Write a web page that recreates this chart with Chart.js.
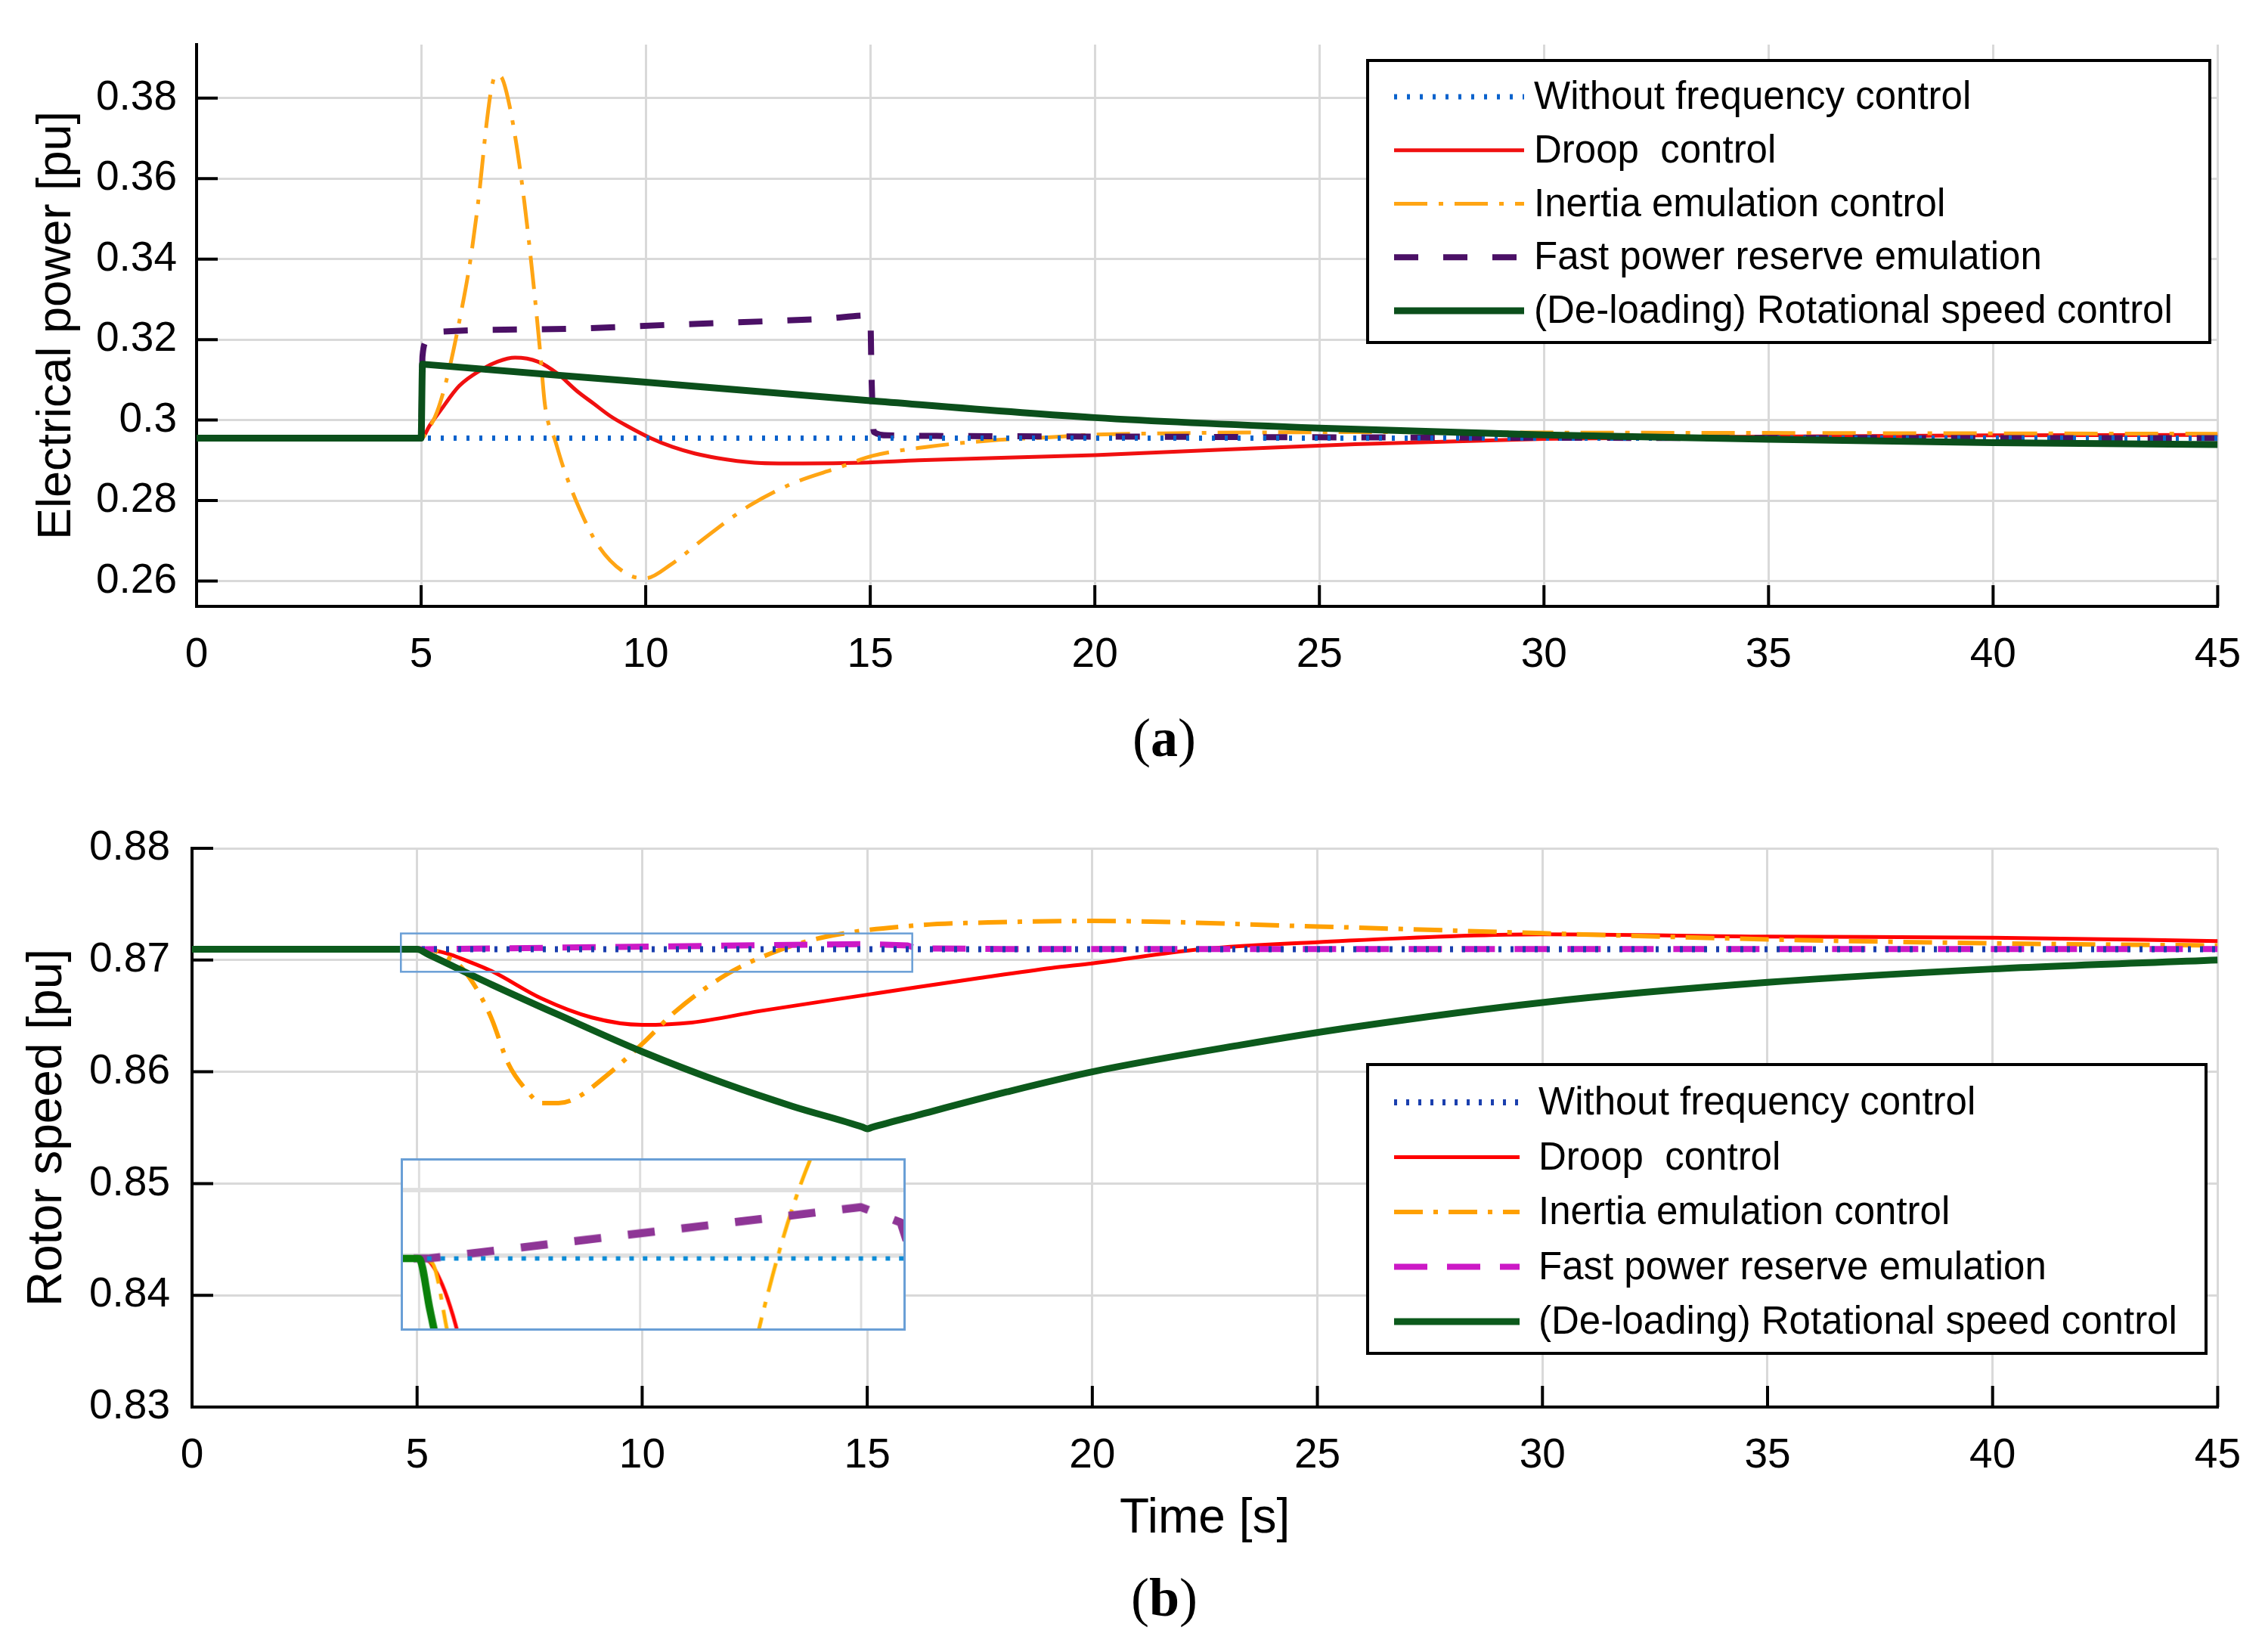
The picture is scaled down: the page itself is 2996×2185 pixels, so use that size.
<!DOCTYPE html>
<html>
<head>
<meta charset="utf-8">
<script src="https://cdn.jsdelivr.net/npm/chart.js@4.4.0/dist/chart.umd.min.js"></script>
<style>
  html, body { margin: 0; padding: 0; background: #fff; }
  #page { position: relative; width: 2996px; height: 2185px; overflow: hidden; background: #fff; }
  canvas { position: absolute; left: 0; }
  #powerChart { top: 0; }
  #speedChart { top: 1060px; }
  #insetChart { background: #fff; border: 3px solid #6a9fd6; }
  .caption { position: absolute; width: 200px; left: 1440px; text-align: center;
             font-family: 'Liberation Serif', serif; font-size: 72px; line-height: 1; color: #000; }
</style>
</head>
<body>
<div id="page">
  <canvas id="powerChart" width="2996" height="930"></canvas>
  <div class="caption" style="top:940px">(<b>a</b>)</div>
  <canvas id="speedChart" width="2996" height="1000"></canvas>
  <canvas id="insetChart"></canvas>
  <div class="caption" style="top:2077px">(<b>b</b>)</div>
</div>
<script>
// axis ticks
const timeTicks = [0, 5, 10, 15, 20, 25, 30, 35, 40, 45];
const powerTicks = [0.26, 0.28, 0.30, 0.32, 0.34, 0.36, 0.38];
const speedTicks = [0.83, 0.84, 0.85, 0.86, 0.87, 0.88];
const insetGridTicks = [0.8710, 0.8716];

const seriesLabels = [
  'Without frequency control',
  'Droop  control',
  'Inertia emulation control',
  'Fast power reserve emulation',
  '(De-loading) Rotational speed control'
];

// (a) electrical power [pu]
const powerNoCtrlT = [0, 45];
const powerNoCtrlV = [0.2955, 0.2955];
const powerDroopT = [0, 5, 5.2, 5.42, 5.85, 6.37, 6.7, 7.09, 7.6, 8.04, 8.47, 8.84, 9.21, 9.59, 10.11, 10.6, 11.09, 11.8, 12.58, 13.5, 14.82, 16.08, 20, 25.8, 30, 35, 40, 45];
const powerDroopV = [0.2955, 0.2955, 0.2988, 0.3022, 0.3085, 0.3127, 0.3145, 0.3155, 0.3145, 0.3115, 0.3072, 0.3041, 0.3010, 0.2985, 0.2955, 0.2933, 0.2917, 0.2902, 0.2893, 0.2892, 0.2894, 0.2900, 0.2913, 0.2940, 0.2953, 0.2959, 0.2962, 0.2963];
const powerInertiaT = [0, 5, 5.15, 5.36, 5.6, 5.85, 6.1, 6.3, 6.45, 6.56, 6.66, 6.78, 6.9, 7.1, 7.3, 7.5, 7.65, 7.76, 7.99, 8.15, 8.47, 8.95, 9.59, 10, 10.55, 11.36, 12.32, 13.28, 14.3, 15.05, 16.24, 17.66, 18.93, 20.05, 21.5, 25.8, 30, 35, 40, 45];
const powerInertiaV = [0.2955, 0.2955, 0.2975, 0.3022, 0.3115, 0.3245, 0.3400, 0.3570, 0.3730, 0.3820, 0.3857, 0.3853, 0.3815, 0.3700, 0.3540, 0.3340, 0.3170, 0.3035, 0.2947, 0.2888, 0.2794, 0.2687, 0.2617, 0.2607, 0.2640, 0.2711, 0.2788, 0.2843, 0.2882, 0.2911, 0.2933, 0.2949, 0.2957, 0.2964, 0.2967, 0.2970, 0.2969, 0.2968, 0.2967, 0.2966];
const powerFastT = [0, 5, 5.03, 5.12, 5.22, 5.5, 8.4, 10.6, 11.6, 12.8, 14, 15, 15.03, 15.08, 15.4, 16, 20, 30, 45];
const powerFastV = [0.2955, 0.2955, 0.3158, 0.3195, 0.3214, 0.3220, 0.3227, 0.3237, 0.3241, 0.3246, 0.3252, 0.3260, 0.3100, 0.2970, 0.2962, 0.2961, 0.2959, 0.2956, 0.2955];
const powerRotT = [0, 5, 5.03, 5.12, 10, 15, 20, 25, 30, 35, 40, 45];
const powerRotV = [0.2955, 0.2955, 0.3139, 0.3138, 0.3094, 0.3048, 0.3006, 0.2980, 0.2963, 0.2952, 0.2944, 0.2939];

// (b) rotor speed [pu]
const speedNoCtrlT = [0, 45];
const speedNoCtrlV = [0.87097, 0.87097];
const speedDroopT = [0, 5, 5.24, 5.54, 5.77, 6.0, 6.66, 7.77, 8.88, 10, 11.1, 12.6, 15, 16.1, 17.5, 19.1, 20, 22.4, 25, 30, 35, 40, 45];
const speedDroopV = [0.87097, 0.87097, 0.87094, 0.87072, 0.87045, 0.8701, 0.8690, 0.86655, 0.86486, 0.8642, 0.86441, 0.86543, 0.8669, 0.86757, 0.8684, 0.8693, 0.8697, 0.87097, 0.8716, 0.8723, 0.8721, 0.8720, 0.8717];
const speedInertiaT = [0, 5, 5.3, 5.63, 5.9, 6.2, 6.45, 6.66, 7.03, 7.4, 7.77, 8.14, 8.51, 9.25, 10, 10.74, 11.87, 12.99, 14.1, 16.1, 18.1, 20, 25, 30, 35, 40, 45];
const speedInertiaV = [0.87097, 0.87097, 0.87093, 0.87033, 0.8697, 0.8682, 0.8665, 0.8647, 0.8607, 0.8585, 0.8572, 0.8572, 0.8576, 0.8598, 0.8625, 0.8654, 0.8687, 0.8708, 0.8721, 0.8731, 0.8734, 0.8735, 0.8730, 0.8724, 0.87185, 0.8715, 0.8713];
const speedFastT = [0, 5, 5.2, 15, 15.9, 16.1, 18, 45];
const speedFastV = [0.87097, 0.87097, 0.87097, 0.87144, 0.8713, 0.87105, 0.87098, 0.87098];
const speedRotT = [0, 5, 5.25, 6.66, 8.14, 10, 11.87, 13.35, 14.9, 15, 15.1, 16.1, 18.1, 20, 23.3, 25.8, 30, 35, 40, 45];
const speedRotV = [0.87097, 0.87097, 0.8705, 0.8678, 0.8651, 0.8618, 0.8589, 0.8569, 0.85505, 0.8549, 0.85502, 0.8561, 0.8582, 0.8600, 0.8624, 0.8640, 0.8662, 0.8680, 0.8692, 0.8700];

// where the zoom marker and the inset sit, in data units of chart (b)
const zoomRegion = { t0: 4.64, t1: 16.0, top: 0.87238, bottom: 0.86895 };
const insetBox = { t0: 4.64, t1: 15.96, top: 0.85229, bottom: 0.83648 };
const insetRange = { min: 0.870331, max: 0.871866 };

Chart.defaults.font.family = "'Liberation Sans', Arial, sans-serif";
Chart.defaults.color = '#000';

const pts = (t, v) => t.map((x, i) => ({ x, y: v[i] }));

function lineSet(label, t, v, style) {
  return Object.assign({
    label, data: pts(t, v), pointRadius: 0, fill: false,
    cubicInterpolationMode: 'monotone', borderCapStyle: 'butt', borderJoinStyle: 'round'
  }, style);
}

const linear = { cubicInterpolationMode: 'default', tension: 0 };

const powerStyles = [
  { borderColor: '#0a62cc', borderWidth: 7, borderDash: [4, 13], order: 1 },
  { borderColor: '#f01010', borderWidth: 5, order: 4 },
  { borderColor: '#ffa514', borderWidth: 5, borderDash: [44, 15, 6, 15], order: 3 },
  { borderColor: '#4b1066', borderWidth: 8, borderDash: [32, 33], order: 2 },
  { borderColor: '#0b4f1b', borderWidth: 9, order: 0 }
];
const speedStyles = [
  { borderColor: '#1a3fae', borderWidth: 8, borderDash: [4, 12], order: 1 },
  { borderColor: '#ff0000', borderWidth: 5, order: 4 },
  { borderColor: '#ffa000', borderWidth: 6, borderDash: [38, 14, 6, 14], order: 3 },
  Object.assign({ borderColor: '#cc19c6', borderWidth: 8, borderDash: [44, 26], order: 2 }, linear),
  { borderColor: '#0c5a1c', borderWidth: 9, order: 0 }
];
const insetStyles = [
  { borderColor: '#0a8bd6', borderWidth: 6, borderDash: [6, 12], order: 1 },
  { borderColor: '#ff0000', borderWidth: 5, order: 4 },
  { borderColor: '#ffb000', borderWidth: 5, borderDash: [40, 14, 8, 14], order: 3 },
  Object.assign({ borderColor: '#8e3596', borderWidth: 11, borderDash: [36, 36], order: 2 }, linear),
  { borderColor: '#0a800a', borderWidth: 10, order: 0 }
];

function powerSets() {
  const t = [powerNoCtrlT, powerDroopT, powerInertiaT, powerFastT, powerRotT];
  const v = [powerNoCtrlV, powerDroopV, powerInertiaV, powerFastV, powerRotV];
  return seriesLabels.map((l, i) => lineSet(l, t[i], v[i], powerStyles[i]));
}
function speedSets(styles) {
  const t = [speedNoCtrlT, speedDroopT, speedInertiaT, speedFastT, speedRotT];
  const v = [speedNoCtrlV, speedDroopV, speedInertiaV, speedFastV, speedRotV];
  return seriesLabels.map((l, i) => lineSet(l, t[i], v[i], styles[i]));
}

// short black tick marks pointing into the plot
const framePlugin = {
  id: 'frame',
  beforeDatasetsDraw(chart, args, o) {
    const { ctx, chartArea: a, scales: { x, y } } = chart;
    ctx.save();
    ctx.strokeStyle = '#000';
    ctx.lineWidth = o.tickWidth;
    ctx.beginPath();
    x.ticks.forEach(t => {
      const px = x.getPixelForValue(t.value);
      ctx.moveTo(px, a.bottom); ctx.lineTo(px, a.bottom - o.tickLen);
    });
    y.ticks.forEach(t => {
      const py = y.getPixelForValue(t.value);
      ctx.moveTo(a.left, py); ctx.lineTo(a.left + o.tickLen, py);
    });
    ctx.stroke();
    ctx.restore();
  }
};

// legend in a framed box inside the plot
const boxLegend = {
  id: 'boxLegend',
  afterDatasetsDraw(chart, args, o) {
    const ctx = chart.ctx;
    ctx.save();
    ctx.fillStyle = '#fff';
    ctx.fillRect(o.left, o.top, o.width, o.height);
    ctx.lineWidth = 4;
    ctx.strokeStyle = '#000';
    ctx.strokeRect(o.left, o.top, o.width, o.height);
    ctx.font = o.font;
    ctx.textBaseline = 'middle';
    chart.data.datasets.forEach((ds, i) => {
      const yy = o.firstRow + i * o.rowGap;
      ctx.beginPath();
      ctx.setLineDash(ds.borderDash || []);
      ctx.lineWidth = ds.borderWidth;
      ctx.strokeStyle = ds.borderColor;
      ctx.moveTo(o.sampleX0, yy);
      ctx.lineTo(o.sampleX1, yy);
      ctx.stroke();
      ctx.setLineDash([]);
      ctx.fillStyle = '#000';
      ctx.fillText(ds.label, o.textX, yy + 2);
    });
    ctx.restore();
  }
};

// thin blue rectangle marking the zoomed region
const zoomMarker = {
  id: 'zoomMarker',
  afterDatasetsDraw(chart, args, o) {
    const { ctx, scales: { x, y } } = chart;
    const x0 = x.getPixelForValue(o.region.t0), x1 = x.getPixelForValue(o.region.t1);
    const y0 = y.getPixelForValue(o.region.top), y1 = y.getPixelForValue(o.region.bottom);
    ctx.save();
    ctx.strokeStyle = o.color;
    ctx.lineWidth = o.width;
    ctx.strokeRect(x0, y0, x1 - x0, y1 - y0);
    ctx.restore();
  }
};

const fmt = v => String(Number(v.toFixed(2)));

function mainScales(cfg) {
  return {
    x: {
      type: 'linear', min: 0, max: 45,
      afterBuildTicks: s => { s.ticks = timeTicks.map(value => ({ value })); },
      afterFit: s => { s.height = cfg.xHeight; },
      ticks: { font: { size: 55 }, padding: 32, maxRotation: 0, autoSkip: false, callback: v => String(v) },
      grid: { color: '#d9d9d9', lineWidth: 3, drawTicks: false },
      border: { display: true, color: '#000', width: 4 },
      title: cfg.xTitle
    },
    y: {
      type: 'linear', min: cfg.yMin, max: cfg.yMax,
      afterBuildTicks: s => { s.ticks = cfg.yTicks.map(value => ({ value })); },
      afterFit: s => { s.width = cfg.yWidth; },
      ticks: { font: { size: 55 }, padding: cfg.yPad, callback: v => fmt(v) },
      grid: { color: '#d9d9d9', lineWidth: 3, drawTicks: false },
      border: { display: true, color: '#000', width: 4 },
      title: cfg.yTitle
    }
  };
}

const powerChart = new Chart(document.getElementById('powerChart'), {
  type: 'line',
  data: { datasets: powerSets() },
  options: {
    responsive: false, animation: false, events: [],
    layout: { padding: { top: 48, right: 53, left: 0, bottom: 0 } },
    scales: mainScales({
      xHeight: 128, yWidth: 260, yPad: 26, yMin: 0.2537, yMax: 0.3933, yTicks: powerTicks,
      xTitle: { display: false },
      yTitle: { display: true, text: 'Electrical power [pu]', font: { size: 63 }, padding: { top: 38, bottom: 0 } }
    }),
    plugins: {
      legend: { display: false }, tooltip: { enabled: false },
      frame: { tickLen: 28, tickWidth: 4 },
      boxLegend: { left: 1809, top: 80, width: 1114, height: 373, firstRow: 128, rowGap: 70.75,
                   sampleX0: 1844, sampleX1: 2016, textX: 2029, font: "51px 'Liberation Sans'" }
    }
  },
  plugins: [framePlugin, boxLegend]
});

const speedChart = new Chart(document.getElementById('speedChart'), {
  type: 'line',
  data: { datasets: speedSets(speedStyles) },
  options: {
    responsive: false, animation: false, events: [],
    layout: { padding: { top: 61, right: 41, left: 0, bottom: 0 } },
    scales: mainScales({
      xHeight: 199, yWidth: 254, yPad: 29, yMin: 0.83, yMax: 0.88, yTicks: speedTicks,
      xTitle: { display: true, text: 'Time [s]', font: { size: 64 }, padding: { top: 0, bottom: 12 } },
      yTitle: { display: true, text: 'Rotor speed [pu]', font: { size: 64 }, padding: { top: 25, bottom: 0 } }
    }),
    plugins: {
      legend: { display: false }, tooltip: { enabled: false },
      frame: { tickLen: 28, tickWidth: 4 },
      zoomMarker: { region: zoomRegion, color: '#6a9fd6', width: 2.5 },
      boxLegend: { left: 1809, top: 348, width: 1109, height: 382, firstRow: 398, rowGap: 72.5,
                   sampleX0: 1844, sampleX1: 2010, textX: 2035, font: "51px 'Liberation Sans'" }
    }
  },
  plugins: [framePlugin, zoomMarker, boxLegend]
});

// magnified inset, placed over chart (b)
const sx = speedChart.scales.x, sy = speedChart.scales.y;
const bx0 = sx.getPixelForValue(insetBox.t0), bx1 = sx.getPixelForValue(insetBox.t1);
const by0 = sy.getPixelForValue(insetBox.top), by1 = sy.getPixelForValue(insetBox.bottom);
const insetCanvas = document.getElementById('insetChart');
const bw = 3;
const iw = Math.round(bx1 - bx0 - 2 * bw), ih = Math.round(by1 - by0 - 2 * bw);
insetCanvas.width = iw; insetCanvas.height = ih;
insetCanvas.style.width = iw + 'px'; insetCanvas.style.height = ih + 'px';
insetCanvas.style.left = Math.round(bx0) + 'px';
insetCanvas.style.top = Math.round(1060 + by0) + 'px';

new Chart(insetCanvas, {
  type: 'line',
  data: { datasets: speedSets(insetStyles) },
  options: {
    responsive: false, animation: false, events: [],
    layout: { padding: 0 },
    scales: {
      x: {
        type: 'linear', min: insetBox.t0, max: insetBox.t1,
        afterBuildTicks: s => { s.ticks = [5, 10, 15].map(value => ({ value })); },
        afterFit: s => { s.height = 0; },
        ticks: { display: false },
        grid: { color: '#dedede', lineWidth: 3, drawTicks: false },
        border: { display: false }
      },
      y: {
        type: 'linear', min: insetRange.min, max: insetRange.max,
        afterBuildTicks: s => { s.ticks = insetGridTicks.map(value => ({ value })); },
        afterFit: s => { s.width = 0; },
        ticks: { display: false },
        grid: { color: '#e0e0e0', lineWidth: 6, drawTicks: false },
        border: { display: false }
      }
    },
    plugins: { legend: { display: false }, tooltip: { enabled: false } }
  }
});
</script>
</body>
</html>
